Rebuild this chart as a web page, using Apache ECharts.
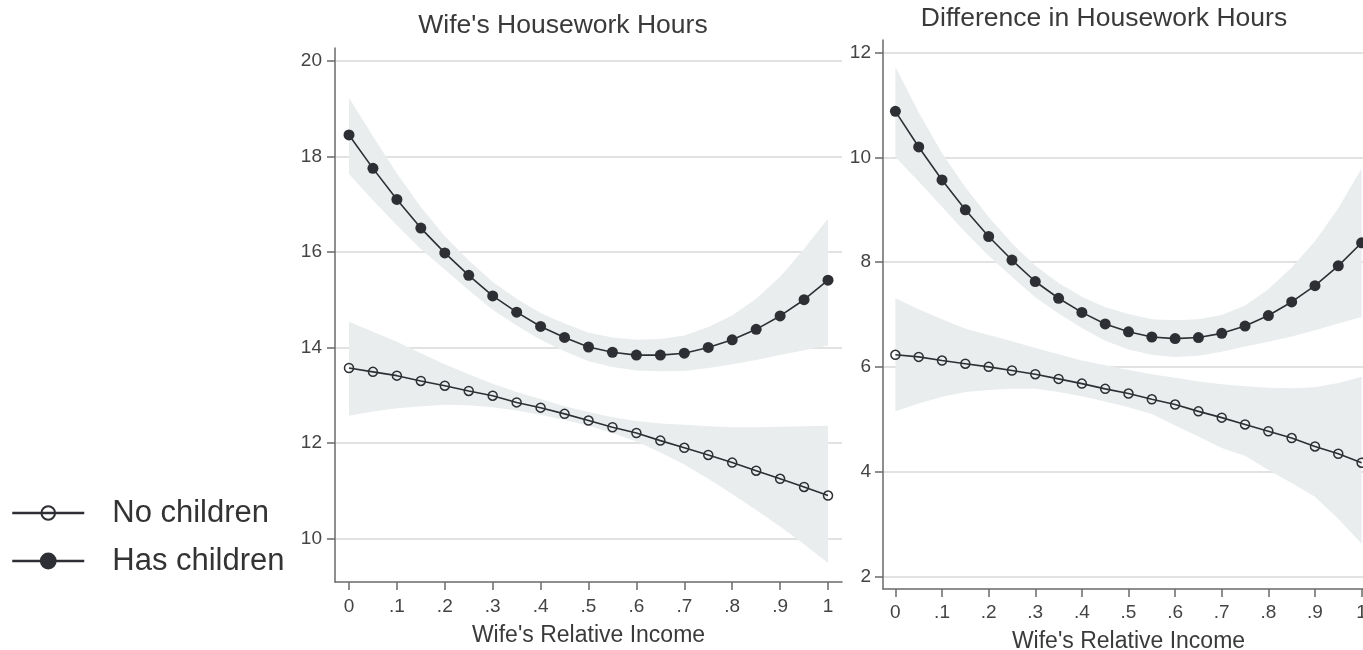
<!DOCTYPE html>
<html>
<head>
<meta charset="utf-8">
<script src="https://cdn.jsdelivr.net/npm/echarts@6/dist/echarts.min.js"></script>
<style>
html,body{margin:0;padding:0;background:#fff;}
#chart{width:1363px;height:650px;}
</style>
</head>
<body>
<div id="chart"></div>
<script>
// ---- data ----
const xVals = [0,0.05,0.1,0.15,0.2,0.25,0.3,0.35,0.4,0.45,0.5,0.55,0.6,0.65,0.7,0.75,0.8,0.85,0.9,0.95,1];
const xTicks = [0,0.1,0.2,0.3,0.4,0.5,0.6,0.7,0.8,0.9,1];
const xTickLabels = ['0','.1','.2','.3','.4','.5','.6','.7','.8','.9','1'];
const leftYTicks = [10,12,14,16,18,20];
const rightYTicks = [2,4,6,8,10,12];

// Wife's housework hours
const wifeHasChildren = [18.45,17.75,17.10,16.50,15.98,15.51,15.08,14.74,14.44,14.21,14.01,13.90,13.84,13.84,13.88,14.00,14.16,14.38,14.66,15.00,15.41];
const wifeHasChildrenLo = [17.63,17.08,16.56,16.06,15.63,15.20,14.79,14.46,14.16,13.92,13.71,13.59,13.52,13.50,13.51,13.57,13.65,13.74,13.84,13.94,14.04];
const wifeHasChildrenHi = [19.23,18.42,17.64,16.94,16.33,15.82,15.37,15.02,14.72,14.50,14.31,14.21,14.16,14.18,14.25,14.43,14.67,15.02,15.48,16.06,16.70];
const wifeNoChildren = [13.57,13.49,13.41,13.30,13.20,13.09,12.99,12.85,12.74,12.61,12.47,12.33,12.21,12.05,11.90,11.75,11.59,11.42,11.25,11.08,10.90];
const wifeNoChildrenLo = [12.57,12.66,12.73,12.77,12.80,12.79,12.75,12.68,12.59,12.48,12.36,12.21,12.03,11.80,11.55,11.25,10.93,10.60,10.25,9.88,9.49];
const wifeNoChildrenHi = [14.54,14.33,14.12,13.88,13.65,13.44,13.24,13.07,12.92,12.77,12.65,12.54,12.46,12.41,12.38,12.35,12.33,12.33,12.34,12.35,12.36];

// Difference in housework hours
const diffHasChildren = [10.88,10.20,9.57,9.00,8.49,8.04,7.63,7.31,7.04,6.82,6.67,6.57,6.54,6.56,6.64,6.78,6.98,7.24,7.55,7.93,8.37];
const diffHasChildrenLo = [10.01,9.54,9.06,8.57,8.12,7.72,7.33,7.02,6.74,6.50,6.33,6.23,6.19,6.21,6.29,6.39,6.48,6.58,6.70,6.83,6.95];
const diffHasChildrenHi = [11.73,10.86,10.08,9.43,8.86,8.36,7.93,7.60,7.34,7.14,7.01,6.91,6.89,6.91,6.99,7.17,7.48,7.90,8.40,9.03,9.79];
const diffNoChildren = [6.23,6.19,6.12,6.06,6.00,5.93,5.86,5.77,5.68,5.58,5.49,5.38,5.28,5.15,5.03,4.90,4.77,4.64,4.48,4.34,4.17];
const diffNoChildrenLo = [5.15,5.30,5.43,5.52,5.56,5.58,5.58,5.52,5.44,5.34,5.23,5.10,4.88,4.67,4.45,4.30,4.03,3.78,3.52,3.10,2.62];
const diffNoChildrenHi = [7.31,7.10,6.91,6.73,6.61,6.49,6.36,6.24,6.12,6.03,5.94,5.86,5.79,5.72,5.67,5.63,5.60,5.59,5.61,5.69,5.81];

// ---- style ----
const INK = '#2d2f34';
const BAND = '#e9eded';
const AXIS = '#6a6a6a';
const GRID = '#d9d9d9';
const TEXT = '#3a3a3a';
const FONT = '"Liberation Sans", Arial, Helvetica, sans-serif';

function pairs(ys){ return xVals.map((x,i)=>[x, ys[i]]); }

function band(lo, hi, axisIdx){
  return {
    type:'custom', xAxisIndex:axisIdx, yAxisIndex:axisIdx, silent:true, z:1,
    data:[[xVals[0], lo[0]]],
    renderItem:function(params, api){
      const pts = [];
      for (let i=0;i<xVals.length;i++) pts.push(api.coord([xVals[i], hi[i]]));
      for (let i=xVals.length-1;i>=0;i--) pts.push(api.coord([xVals[i], lo[i]]));
      return {type:'polygon', shape:{points:pts}, style:{fill:BAND}};
    }
  };
}

function lineSeries(name, ys, axisIdx, filled){
  return {
    type:'line', name:name, xAxisIndex:axisIdx, yAxisIndex:axisIdx, z:3,
    data:pairs(ys),
    symbol:'circle',
    symbolSize: filled ? 11 : 9,
    showAllSymbol:true,
    lineStyle:{color:INK, width:1.6},
    itemStyle: filled ? {color:INK, borderColor:INK, borderWidth:0} : {color:'rgba(0,0,0,0)', borderColor:INK, borderWidth:1.5},
    emphasis:{disabled:true}
  };
}

function xAxisDef(gridIdx, min, max, labelMargin, nameGap){
  return {
    type:'value', gridIndex:gridIdx, min:min, max:max,
    name:"Wife's Relative Income", nameLocation:'middle', nameGap:nameGap,
    nameTextStyle:{fontFamily:FONT, fontSize:23, color:TEXT},
    axisLine:{show:true, onZero:false, lineStyle:{color:AXIS, width:1.5}},
    axisTick:{show:true, length:8, lineStyle:{color:AXIS, width:1.5}, customValues:xTicks},
    axisLabel:{show:true, margin:labelMargin, fontFamily:FONT, fontSize:19, color:'#444',
      customValues:xTicks,
      formatter:function(v){ const i = xTicks.findIndex(t=>Math.abs(t-v)<1e-9); return i>=0 ? xTickLabels[i] : ''; }},
    splitLine:{show:false}
  };
}

function yAxisDef(gridIdx, min, max, ticks, labelMargin){
  return {
    type:'value', gridIndex:gridIdx, min:min, max:max,
    axisLine:{show:true, onZero:false, lineStyle:{color:AXIS, width:1.5}},
    axisTick:{show:true, length:8, lineStyle:{color:AXIS, width:1.5}, customValues:ticks},
    axisLabel:{show:true, margin:labelMargin, fontFamily:FONT, fontSize:19, color:'#444', customValues:ticks},
    splitLine:{show:true, lineStyle:{color:GRID, width:1.5}}
  };
}

const chart = echarts.init(document.getElementById('chart'), null, {renderer:'canvas'});
chart.setOption({
  animation:false,
  backgroundColor:'#fff',
  title:[
    {text:"Wife's Housework Hours", left:563, top:12, padding:0, textAlign:'center',
     textStyle:{fontFamily:FONT, fontSize:26.5, fontWeight:'normal', color:TEXT}},
    {text:'Difference in Housework Hours', left:1104, top:5, padding:0, textAlign:'center',
     textStyle:{fontFamily:FONT, fontSize:26.5, fontWeight:'normal', color:TEXT}}
  ],
  legend:[
    {data:['No children'], orient:'vertical', left:11, top:495, padding:0,
     itemWidth:72, itemHeight:17,
     lineStyle:{width:2.5},
     textStyle:{fontFamily:FONT, fontSize:31, color:'#333', lineHeight:36, padding:[0,0,0,23]}},
    {data:['Has children'], orient:'vertical', left:11, top:543, padding:0,
     itemWidth:72, itemHeight:21,
     lineStyle:{width:2.5},
     textStyle:{fontFamily:FONT, fontSize:31, color:'#333', lineHeight:36, padding:[0,0,0,23]}}
  ],
  grid:[
    {left:335, top:48, width:507, height:534, outerBoundsMode:'none', containLabel:false},
    {left:883, top:40, width:491, height:549, outerBoundsMode:'none', containLabel:false}
  ],
  xAxis:[
    xAxisDef(0, -0.0292, 1.0292, 15, 42),
    xAxisDef(1, -0.0266, 1.0266, 14, 41)
  ],
  yAxis:[
    yAxisDef(0, 9.09, 20.27, leftYTicks, 13),
    yAxisDef(1, 1.757, 12.243, rightYTicks, 12)
  ],
  series:[
    band(wifeHasChildrenLo, wifeHasChildrenHi, 0),
    band(wifeNoChildrenLo, wifeNoChildrenHi, 0),
    band(diffHasChildrenLo, diffHasChildrenHi, 1),
    band(diffNoChildrenLo, diffNoChildrenHi, 1),
    lineSeries('No children', wifeNoChildren, 0, false),
    lineSeries('Has children', wifeHasChildren, 0, true),
    lineSeries('No children', diffNoChildren, 1, false),
    lineSeries('Has children', diffHasChildren, 1, true)
  ]
});
</script>
</body>
</html>
